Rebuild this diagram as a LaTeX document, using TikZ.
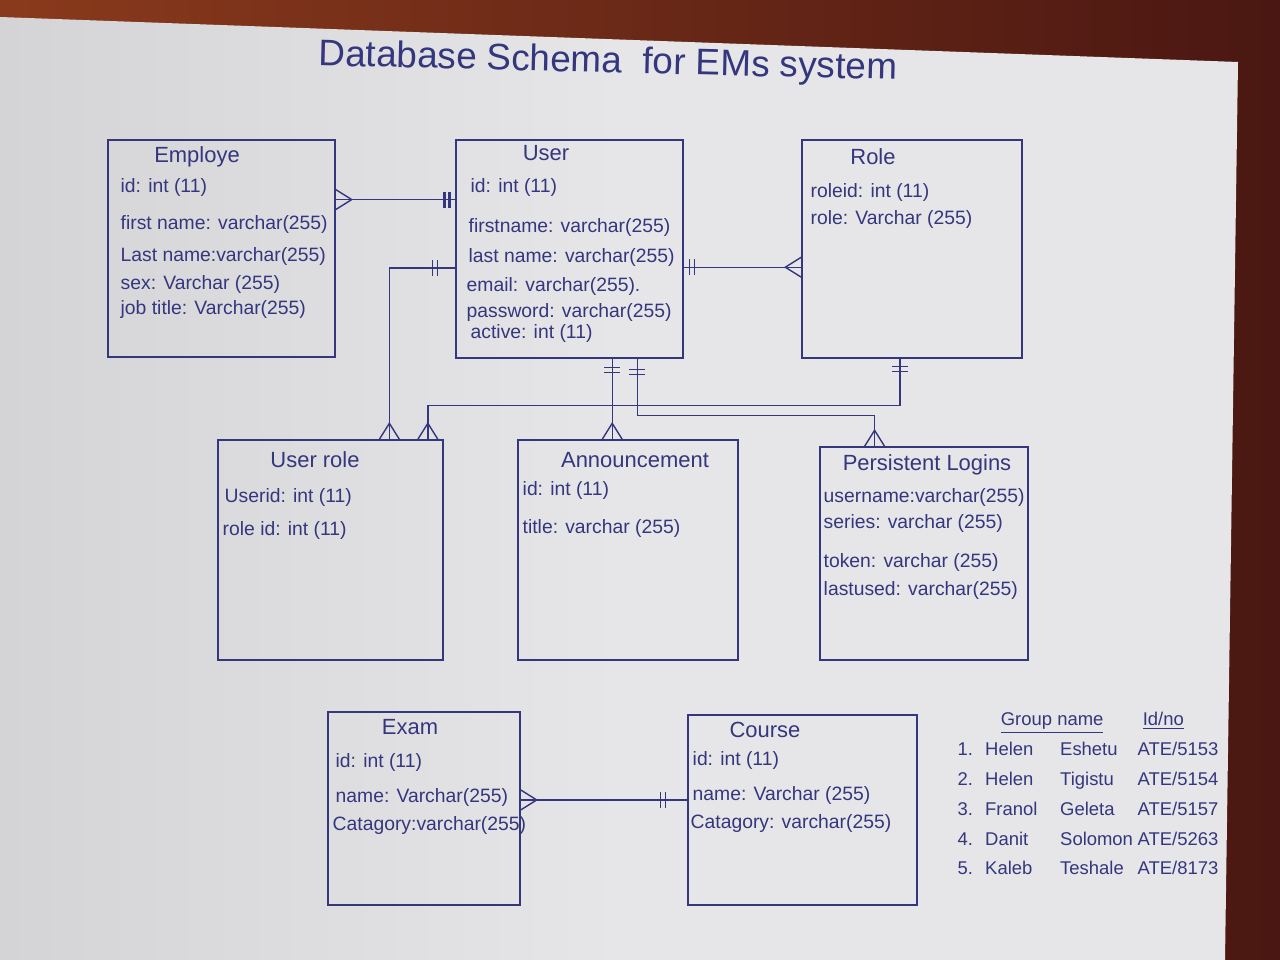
\documentclass[tikz,border=0pt]{standalone}
\usepackage{fontspec}
\setmainfont{Liberation Sans}
\usetikzlibrary{calc}
\definecolor{ink}{HTML}{34367E}
\definecolor{paper}{HTML}{E6E6E8}
\definecolor{paperdark}{HTML}{D4D4D6}
\definecolor{wood}{HTML}{8A3A1C}
\definecolor{wooddark}{HTML}{4A1712}
\tikzset{
  entity/.style={draw, inner sep=0pt},
  field/.style={anchor=west, inner sep=0pt, font=\fontsize{11}{13}\selectfont},
  head/.style={inner sep=0pt, font=\fontsize{12.5}{14}\selectfont},
  crow/.pic={\draw (0,-10) -- (16,0) -- (0,10);},
  bars/.pic={\draw (#1,-8) -- (#1,8) (#1+5,-8) -- (#1+5,8);}
}
\begin{document}
\begin{tikzpicture}[x=0.2mm, y=-0.2mm, line width=0.8pt, color=ink]
            \useasboundingbox (0,0) rectangle (1280,960);
            \shade[left color=wood, right color=wooddark] (0,0) rectangle (1280,960);
            \shade[left color=paperdark, right color=paper, middle color=paper] (0,17) -- (1238,62) -- (1225,960) -- (0,960) -- cycle;
            % title
            \node[font=\fontsize{21}{24}\selectfont, rotate=-1.4] (T) at (608,63) {Database Schema \ for EMs system};
            % tables
            \node[entity, minimum width=45.4mm, minimum height=43.4mm] (Emp) at (221.5,248.5) {};
            \node[entity, minimum width=45.4mm, minimum height=43.6mm] (Usr) at (569.5,249) {};
            \node[entity, minimum width=44mm, minimum height=43.6mm] (Rol) at (912,249) {};
            \node[entity, minimum width=45mm, minimum height=44mm] (UR) at (330.5,550) {};
            \node[entity, minimum width=44mm, minimum height=44mm] (Ann) at (628,550) {};
            \node[entity, minimum width=41.6mm, minimum height=42.6mm] (PL) at (924,553.5) {};
            \node[entity, minimum width=38.4mm, minimum height=38.6mm] (Ex) at (424,808.5) {};
            \node[entity, minimum width=45.8mm, minimum height=38mm] (Co) at (802.5,810) {};
            % Employe
            \node[head] (EmpH) at (197,157) {Employe};
            \node[field] (Emp1) at (120,188) {id: int (11)};
            \node[field] (Emp2) at (120,225) {first name: varchar(255)};
            \node[field] (Emp3) at (120,257) {Last name:varchar(255)};
            \node[field] (Emp4) at (120,285) {sex: Varchar (255)};
            \node[field] (Emp5) at (120,310) {job title: Varchar(255)};
            % User
            \node[head] (UsrH) at (546,153) {User};
            \node[field] (Usr1) at (470,188) {id: int (11)};
            \node[field] (Usr2) at (468,227) {firstname: varchar(255)};
            \node[field] (Usr3) at (468,258) {last name: varchar(255)};
            \node[field] (Usr4) at (466,287) {email: varchar(255).};
            \node[field] (Usr5) at (466,313) {password: varchar(255)};
            \node[field] (Usr6) at (470,333) {active: int (11)};
            % Role
            \node[head] (RolH) at (873,157) {Role};
            \node[field] (Rol1) at (810,193) {roleid: int (11)};
            \node[field] (Rol2) at (810,220) {role: Varchar (255)};
            % User role
            \node[head] (URH) at (315,460) {User role};
            \node[field] (UR1) at (224,497) {Userid: int (11)};
            \node[field] (UR2) at (222,530) {role id: int (11)};
            % Announcement
            \node[head] (AnnH) at (635,460) {Announcement};
            \node[field] (Ann1) at (522,490) {id: int (11)};
            \node[field] (Ann2) at (522,528) {title: varchar (255)};
            % Persistent Logins
            \node[head] (PLH) at (927,465) {Persistent Logins};
            \node[field] (PL1) at (823,497) {username:varchar(255)};
            \node[field] (PL2) at (823,523) {series: varchar (255)};
            \node[field] (PL3) at (823,562) {token: varchar (255)};
            \node[field] (PL4) at (823,590) {lastused: varchar(255)};
            % Exam
            \node[head] (ExH) at (410,727) {Exam};
            \node[field] (Ex1) at (335,762) {id: int (11)};
            \node[field] (Ex2) at (335,797) {name: Varchar(255)};
            \node[field] (Ex3) at (332,825) {Catagory:varchar(255)};
            % Course
            \node[head] (CoH) at (765,730) {Course};
            \node[field] (Co1) at (692,760) {id: int (11)};
            \node[field] (Co2) at (692,795) {name: Varchar (255)};
            \node[field] (Co3) at (690,823) {Catagory: varchar(255)};
            % group
            \node[anchor=north west, inner sep=0pt, font=\fontsize{10.5}{17}\selectfont] (G) at (957,704) {%
              \begin{tabular}{@{}p{5.5mm}@{}p{15mm}@{}p{15.5mm}@{}l@{}}
                & \multicolumn{2}{l}{\ \underline{Group name}} & \ \underline{Id/no}\\
                1. & Helen & Eshetu & ATE/5153\\
                2. & Helen & Tigistu & ATE/5154\\
                3. & Franol & Geleta & ATE/5157\\
                4. & Danit & Solomon & ATE/5263\\
                5. & Kaleb & Teshale & ATE/8173
              \end{tabular}};
            % relations
            \coordinate (e1) at ($(Emp.north east)!0.276!(Emp.south east)$);
            \coordinate (u2) at ($(Usr.north east)!0.583!(Usr.south east)$);
            \coordinate (u3) at ($(Usr.north west)!0.587!(Usr.south west)$);
            \coordinate (u4) at ($(Usr.south west)!0.687!(Usr.south east)$);
            \coordinate (u5) at ($(Usr.south west)!0.797!(Usr.south east)$);
            \coordinate (r1) at ($(Rol.south west)!0.445!(Rol.south east)$);
            \coordinate (ur1) at ($(UR.north west)!0.76!(UR.north east)$);
            \coordinate (ur2) at ($(UR.north west)!0.93!(UR.north east)$);
            \coordinate (pl1) at ($(PL.north west)!0.264!(PL.north east)$);
            \coordinate (x1) at ($(Ex.north east)!0.456!(Ex.south east)$);
            \draw (e1) -- (e1 -| Usr.west);
            \draw (u2) -- (u2 -| Rol.west);
            \draw (u3) -| (ur1);
            \draw (r1) -- ++(0,47) -| (ur2);
            \draw (u4) -- (u4 |- Ann.north);
            \draw (u5) -- ++(0,57) -| (pl1);
            \draw (x1) -- (x1 -| Co.west);
            \pic at (e1) {crow};
            \pic[rotate=180, line width=1.4pt] at (e1 -| Usr.west) {bars=6};
            \pic at (u2) {bars=6};
            \pic[rotate=180] at (u2 -| Rol.west) {crow};
            \pic[rotate=180] at (u3) {bars=18};
            \pic[rotate=90] at (ur1) {crow};
            \pic[rotate=-90] at (r1) {bars=8};
            \pic[rotate=90] at (ur2) {crow};
            \pic[rotate=-90] at (u4) {bars=9};
            \pic[rotate=90] at (u4 |- Ann.north) {crow};
            \pic[rotate=-90] at (u5) {bars=11};
            \pic[rotate=90] at (pl1) {crow};
            \pic at (x1) {crow};
            \pic[rotate=180] at (x1 -| Co.west) {bars=22};
\end{tikzpicture}
\end{document}
